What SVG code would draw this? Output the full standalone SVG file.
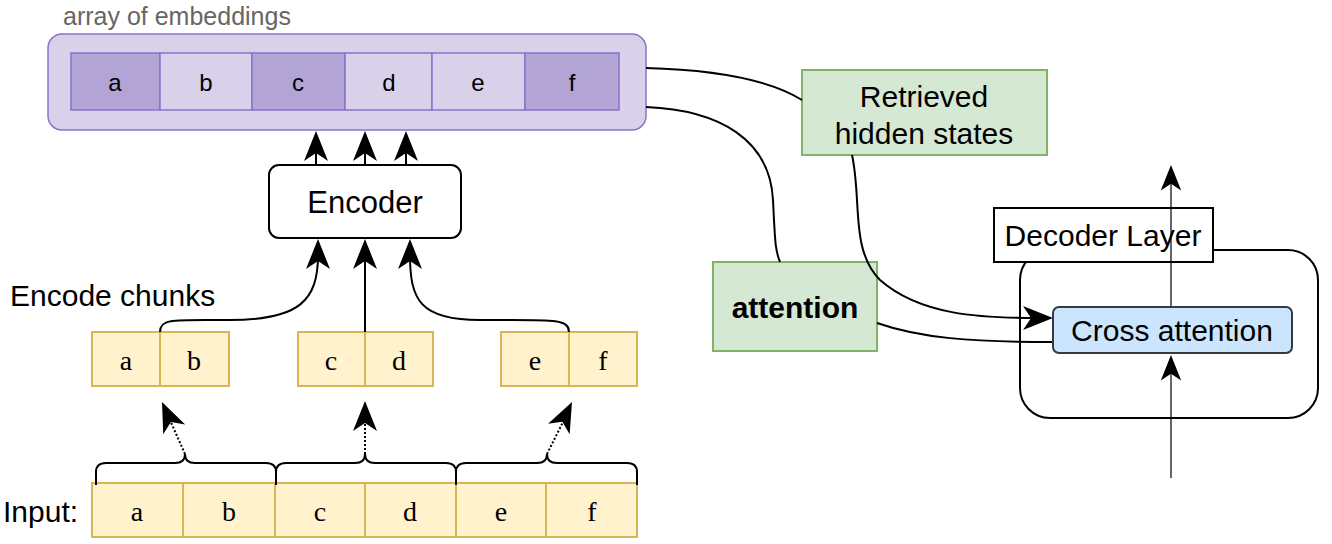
<svg xmlns="http://www.w3.org/2000/svg" xmlns:xlink="http://www.w3.org/1999/xlink" width="1332" height="544" viewBox="0 0 1332 544">
<style>
.sans{font-family:"Liberation Sans",Arial,sans-serif;}
.serif{font-family:"Liberation Serif","Times New Roman",serif;font-size:28px;}
.emb{stroke:#8b73c7;stroke-width:1.5;}
.light{fill:#d9d0ea;}
.dark{fill:#b2a5d5;}
.yel{fill:#fff2cc;stroke:#d6b656;stroke-width:2;}
.grn{fill:#d5e8d4;stroke:#82b366;stroke-width:2;}
.con{fill:none;stroke:#000;stroke-width:2;}
.thin{fill:none;stroke:#000;stroke-width:1.2;}
.head{fill:#000;stroke:none;}
text{text-anchor:middle;dominant-baseline:central;}
.lbl{font-size:30px;}
</style>
<defs>
<path id="ah" d="M0,0 L-30,-12 L-22,0 L-30,12 z"/>
</defs>

<g id="embeddings">
<text class="sans" x="63" y="16" style="text-anchor:start;font-size:25px;fill:#666">array of embeddings</text>
<rect x="48" y="34" width="598" height="96" rx="14" class="light emb"/>
<rect x="71" y="53" width="89" height="57" class="dark emb"/>
<rect x="160" y="53" width="92" height="57" class="light emb"/>
<rect x="252" y="53" width="93" height="57" class="dark emb"/>
<rect x="345" y="53" width="87" height="57" class="light emb"/>
<rect x="432" y="53" width="93" height="57" class="light emb"/>
<rect x="525" y="53" width="94" height="57" class="dark emb"/>
<g class="sans" style="font-size:24px">
<text x="115" y="82">a</text><text x="206" y="82">b</text><text x="298" y="82">c</text>
<text x="389" y="82">d</text><text x="478" y="82">e</text><text x="572" y="82">f</text>
</g>
</g>

<g id="encoder">
<rect x="269" y="165" width="192" height="73" rx="10" fill="#fff" stroke="#000" stroke-width="2"/>
<text class="sans" x="365" y="202" style="font-size:31px">Encoder</text>
</g>

<g id="encode-chunks-label">
<text class="sans lbl" x="10" y="295" style="text-anchor:start">Encode chunks</text>
</g>

<g id="chunk-ab">
<rect x="92" y="332" width="68" height="54" class="yel"/><rect x="160" y="332" width="69" height="54" class="yel"/>
<text class="serif" x="126" y="360">a</text><text class="serif" x="194" y="360">b</text>
</g>
<g id="chunk-cd">
<rect x="298" y="332" width="67" height="54" class="yel"/><rect x="365" y="332" width="68" height="54" class="yel"/>
<text class="serif" x="331" y="360">c</text><text class="serif" x="399" y="360">d</text>
</g>
<g id="chunk-ef">
<rect x="501" y="332" width="68" height="54" class="yel"/><rect x="569" y="332" width="68" height="54" class="yel"/>
<text class="serif" x="535" y="360">e</text><text class="serif" x="603" y="360">f</text>
</g>

<g id="input">
<text class="sans lbl" x="3" y="511" style="text-anchor:start">Input:</text>
<rect x="92" y="483" width="91" height="54" class="yel"/>
<rect x="183" y="483" width="92" height="54" class="yel"/>
<rect x="275" y="483" width="90" height="54" class="yel"/>
<rect x="365" y="483" width="91" height="54" class="yel"/>
<rect x="456" y="483" width="90" height="54" class="yel"/>
<rect x="546" y="483" width="91" height="54" class="yel"/>
<text class="serif" x="137" y="511">a</text><text class="serif" x="229" y="511">b</text>
<text class="serif" x="320" y="511">c</text><text class="serif" x="410" y="511">d</text>
<text class="serif" x="501" y="511">e</text><text class="serif" x="592" y="511">f</text>
</g>

<g id="braces" class="con">
<path d="M96,485 L96,472 Q96,463 106,463 L175,463 Q185,463 185,454 Q185,463 195,463 L266,463 Q276,463 276,472 L276,485"/>
<path d="M276,485 L276,472 Q276,463 286,463 L355,463 Q365,463 365,454 Q365,463 375,463 L446,463 Q456,463 456,472 L456,485"/>
<path d="M456,485 L456,472 Q456,463 466,463 L537,463 Q547,463 547,454 Q547,463 557,463 L627,463 Q637,463 637,472 L637,485"/>
</g>

<g id="retrieved">
<rect x="802" y="70" width="245" height="85" class="grn"/>
<text class="sans lbl" x="924" y="96">Retrieved</text>
<text class="sans lbl" x="924" y="133">hidden states</text>
</g>

<g id="attention">
<rect x="713" y="262" width="164" height="89" class="grn"/>
<text class="sans lbl" x="795" y="307" style="font-weight:bold">attention</text>
</g>

<g id="decoder">
<rect x="1020" y="250" width="298" height="168" rx="30" fill="none" stroke="#000" stroke-width="2"/>
<rect x="994" y="208" width="219" height="54" fill="#fff" stroke="#000" stroke-width="2"/>
<text class="sans lbl" x="1103" y="235">Decoder Layer</text>
</g>

<g id="connectors">
<line x1="316" y1="165" x2="316" y2="145" class="con"/>
<line x1="365" y1="165" x2="365" y2="145" class="con"/>
<line x1="406" y1="165" x2="406" y2="145" class="con"/>
<path d="M160,332 C160,318 175,320 230,320 C300,320 318,300 318,255" class="con"/>
<line x1="365" y1="332" x2="365" y2="255" class="con"/>
<path d="M569,332 C569,318 550,320 480,320 C420,320 410,300 410,255" class="con"/>
<path d="M185,454 L169,418" class="con" stroke-dasharray="2,2"/>
<path d="M365,454 L365,417" class="con" stroke-dasharray="2,2"/>
<path d="M547,454 L565,418" class="con" stroke-dasharray="2,2"/>
<path d="M646,68 C720,70 770,80 802,100" class="con"/>
<path d="M646,107 C720,110 770,140 773,200 C775,240 775,250 780,262" class="con"/>
<path d="M852,155 C862,200 850,250 880,280 C920,315 980,318 1035,318" class="con"/>
<path d="M877,323 C920,338 970,342 1053,342" class="con"/>
<line x1="1171" y1="478" x2="1171" y2="370" class="thin"/>
<line x1="1171" y1="307" x2="1171" y2="180" class="thin"/>
<g class="head">
<use xlink:href="#ah" href="#ah" transform="translate(316,131) rotate(-90)"/>
<use xlink:href="#ah" href="#ah" transform="translate(365,131) rotate(-90)"/>
<use xlink:href="#ah" href="#ah" transform="translate(406,131) rotate(-90)"/>
<use xlink:href="#ah" href="#ah" transform="translate(318,239) rotate(-90)"/>
<use xlink:href="#ah" href="#ah" transform="translate(365,239) rotate(-90)"/>
<use xlink:href="#ah" href="#ah" transform="translate(410,239) rotate(-90)"/>
<use xlink:href="#ah" href="#ah" transform="translate(162,402) rotate(-114)"/>
<use xlink:href="#ah" href="#ah" transform="translate(365,401) rotate(-90)"/>
<use xlink:href="#ah" href="#ah" transform="translate(572,402) rotate(-64)"/>
<use xlink:href="#ah" href="#ah" transform="translate(1053,318)"/>
<use xlink:href="#ah" href="#ah" transform="translate(1171,355) rotate(-90) scale(0.85)"/>
<use xlink:href="#ah" href="#ah" transform="translate(1171,165) rotate(-90) scale(0.85)"/>
</g>
</g>

<g id="cross-attention">
<rect x="1053" y="307" width="239" height="46" rx="6" fill="#cce5ff" stroke="#36393d" stroke-width="2"/>
<text class="sans lbl" x="1172" y="330">Cross attention</text>
</g>
</svg>
